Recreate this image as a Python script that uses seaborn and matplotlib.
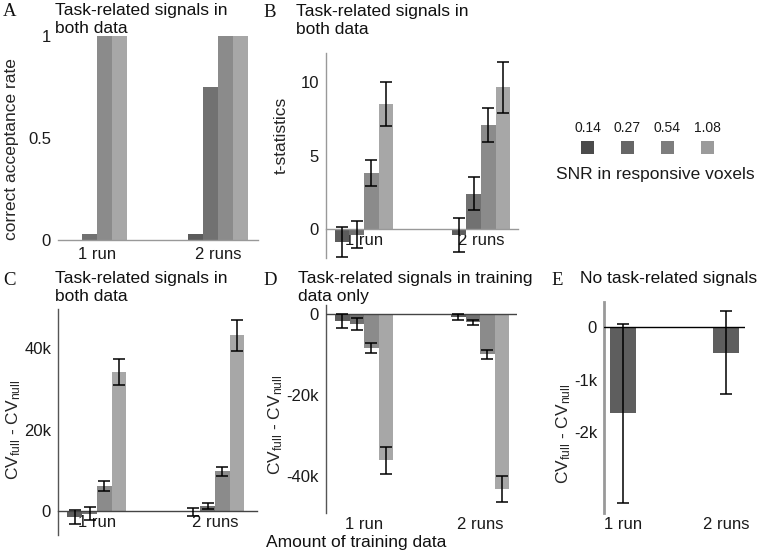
import numpy as np
import pandas as pd
import matplotlib
matplotlib.use("Agg")
import matplotlib.pyplot as plt
import seaborn as sns
from matplotlib.patches import Rectangle
from matplotlib.ticker import FixedLocator, FixedFormatter

# ---------------- data ----------------
amounts = ["1 run", "2 runs"]
snr_levels = ["0.14", "0.27", "0.54", "1.08"]

# A: correct acceptance rate
acc_1run = [0.0, 0.027, 1.0, 1.0]
acc_2runs = [0.027, 0.75, 1.0, 1.0]

# B: t-statistics (mean, error)
t_1run = [-0.9, -0.4, 3.8, 8.5]
t_1run_err = [1.0, 0.95, 0.9, 1.5]
t_2runs = [-0.45, 2.4, 7.1, 9.65]
t_2runs_err = [1.15, 1.1, 1.15, 1.75]

# C: CV_full - CV_null, task signals in both data
cvb_1run = [-1500, -700, 6100, 34200]
cvb_1run_err = [1800, 1600, 1300, 3200]
cvb_2runs = [-300, 1300, 9700, 43200]
cvb_2runs_err = [1000, 700, 1100, 3800]

# D: CV_full - CV_null, task signals in training data only
cvt_1run = [-1700, -2400, -8300, -36000]
cvt_1run_err = [1700, 1500, 1200, 3300]
cvt_2runs = [-700, -2100, -9900, -43100]
cvt_2runs_err = [700, 700, 1100, 3200]

# E: no task-related signals
cvn = [-1640, -490]
cvn_err = [1700, 780]

bar_colors = ["#5c5c5c", "#717171", "#8b8b8b", "#a7a7a7"]
legend_colors = ["#4b4b4b", "#666666", "#7d7d7d", "#9b9b9b"]
e_color = "#5e5e5e"

# ---------------- style ----------------
sns.set_style("white")
plt.rcParams["font.family"] = ["Liberation Sans", "DejaVu Sans"]
plt.rcParams["mathtext.fontset"] = "custom"
plt.rcParams["mathtext.rm"] = "Liberation Sans"
plt.rcParams["mathtext.it"] = "Liberation Sans:italic"
plt.rcParams["axes.linewidth"] = 1.0

W, H = 760, 552
fig = plt.figure(figsize=(W / 100, H / 100), dpi=100)


def add_ax(x0, y0, x1, y1):
    return fig.add_axes([x0 / W, 1 - y1 / H, (x1 - x0) / W, (y1 - y0) / H])


def long_df(v1, v2, e1=None, e2=None):
    rows = []
    for amt, vals, errs in ((amounts[0], v1, e1), (amounts[1], v2, e2)):
        for i, s in enumerate(snr_levels):
            rows.append({"amount": amt, "snr": s, "value": vals[i],
                         "err": (errs[i] if errs is not None else 0.0)})
    return pd.DataFrame(rows)


def grouped(ax, df, with_err=True):
    sns.barplot(data=df, x="amount", y="value", hue="snr", order=amounts,
                hue_order=snr_levels, palette=bar_colors, width=0.5,
                errorbar=None, saturation=1, linewidth=0, legend=False, ax=ax)
    if with_err:
        lut = {(r.amount, r.snr): r.err for r in df.itertuples()}
        bar_conts = list(ax.containers)
        for hi, cont in enumerate(bar_conts):
            for ci, bar in enumerate(cont):
                xc = bar.get_x() + bar.get_width() / 2
                yv = bar.get_y() + bar.get_height()
                ax.errorbar(xc, yv, yerr=lut[(amounts[ci], snr_levels[hi])],
                            fmt="none", ecolor="black", elinewidth=1.1,
                            capsize=4.5, capthick=1.1, zorder=5)
    ax.set_xlabel("")


def style_ticks(ax, yt, ylab, xpad=4):
    ax.yaxis.set_major_locator(FixedLocator(yt))
    ax.yaxis.set_major_formatter(FixedFormatter(ylab))
    ax.tick_params(axis="both", length=0, labelsize=12, colors="#1a1a1a")
    ax.tick_params(axis="x", pad=xpad)
    ax.tick_params(axis="y", pad=5)


cv_label = r"CV$_{\mathrm{full}}$ - CV$_{\mathrm{null}}$"

# ---------------- A ----------------
axA = add_ax(58, 36, 258, 240)
grouped(axA, long_df(acc_1run, acc_2runs), with_err=False)
axA.set_xlim(-0.322, 1.331)
axA.set_ylim(0, 1)
for s in ("top", "right", "left"):
    axA.spines[s].set_visible(False)
axA.spines["bottom"].set_color("#999999")
style_ticks(axA, [0, 0.5, 1], ["0", "0.5", "1"], xpad=5)
axA.set_ylabel("correct acceptance rate", fontsize=12.5, va="center")
axA.yaxis.set_label_coords((12 - 58) / 200, (240 - 149) / 204)

# ---------------- B ----------------
axB = add_ax(326, 53, 518, 258)
grouped(axB, long_df(t_1run, t_2runs, t_1run_err, t_2runs_err))
axB.set_xlim(-0.325, 1.316)
axB.set_ylim(-2, 12)
for s in ("top", "right"):
    axB.spines[s].set_visible(False)
axB.spines["left"].set_color("#999999")
axB.spines["bottom"].set_color("#999999")
axB.spines["bottom"].set_position(("data", 0))
style_ticks(axB, [0, 5, 10], ["0", "5", "10"], xpad=3)
axB.set_ylabel("t-statistics", fontsize=12.5, va="center")
axB.yaxis.set_label_coords((281 - 326) / 192, (258 - 135) / 205)

# ---------------- C ----------------
axC = add_ax(58, 309, 257, 535)
grouped(axC, long_df(cvb_1run, cvb_2runs, cvb_1run_err, cvb_2runs_err))
axC.set_xlim(-0.33, 1.356)
axC.set_ylim(-5900, 49600)
for s in ("top", "right"):
    axC.spines[s].set_visible(False)
axC.spines["left"].set_color("#555555")
axC.spines["bottom"].set_color("#444444")
axC.spines["bottom"].set_position(("data", 0))
style_ticks(axC, [0, 20000, 40000], ["0", "20k", "40k"], xpad=3)
axC.set_ylabel(cv_label, fontsize=12.5, va="center")
axC.yaxis.set_label_coords((14 - 58) / 199, (535 - 430) / 226)

# ---------------- D ----------------
axD = add_ax(326, 305, 517, 513)
grouped(axD, long_df(cvt_1run, cvt_2runs, cvt_1run_err, cvt_2runs_err))
axD.set_xlim(-0.328, 1.319)
axD.set_ylim(-49000, 2200)
for s in ("top", "right", "bottom"):
    axD.spines[s].set_visible(False)
axD.spines["left"].set_color("#555555")
axD.axhline(0, color="#444444", lw=1.0, zorder=4)
style_ticks(axD, [0, -20000, -40000], ["0", "-20k", "-40k"], xpad=3)
axD.set_ylabel(cv_label, fontsize=12.5, va="center")
axD.yaxis.set_label_coords((276 - 326) / 191, (513 - 425) / 208)

# ---------------- E ----------------
axE = add_ax(604, 302, 745, 513)
dfE = pd.DataFrame({"amount": amounts, "value": cvn, "err": cvn_err})
sns.barplot(data=dfE, x="amount", y="value", order=amounts, color=e_color,
            width=0.25, errorbar=None, saturation=1, linewidth=0, ax=axE)
for bar, err in zip(list(axE.patches), dfE["err"]):
    axE.errorbar(bar.get_x() + bar.get_width() / 2, bar.get_y() + bar.get_height(),
                 yerr=err, fmt="none", ecolor="black", elinewidth=1.1,
                 capsize=4.5, capthick=1.1, zorder=5)
axE.set_xlabel("")
axE.set_xlim(-0.184, 1.184)
axE.set_ylim(-3530, 470)
for s in ("top", "right", "bottom"):
    axE.spines[s].set_visible(False)
axE.spines["left"].set_color("#999999")
axE.spines["left"].set_linewidth(2)
axE.axhline(0, color="black", lw=1.0, zorder=4)
style_ticks(axE, [0, -1000, -2000], ["0", "-1k", "-2k"], xpad=3)
axE.set_ylabel(cv_label, fontsize=12.5, va="center")
axE.yaxis.set_label_coords((564 - 604) / 141, (513 - 434) / 211)

# ---------------- legend ----------------
sq = 13
for i, (lab, col) in enumerate(zip(snr_levels, legend_colors)):
    x0 = 581 + 40 * i
    fig.add_artist(Rectangle((x0 / W, 1 - 154 / H), sq / W, sq / H,
                             transform=fig.transFigure, facecolor=col,
                             edgecolor="none"))
    fig.text((x0 + sq / 2) / W, 1 - 127.5 / H, lab, ha="center", va="center",
             fontsize=10, color="#1a1a1a")
fig.text(655 / W, 1 - 175 / H, "SNR in responsive voxels", ha="center",
         va="center", fontsize=12.5, color="#1a1a1a")

# ---------------- titles and letters ----------------
def letter(x, yb, s):
    fig.text(x / W, 1 - yb / H, s, ha="left", va="baseline", fontsize=13.5,
             family=["Liberation Serif", "DejaVu Serif"], color="#111111")


def title(x, yb, lines):
    for k, line in enumerate(lines):
        fig.text(x / W, 1 - (yb + 18 * k) / H, line, ha="left", va="baseline",
                 fontsize=12.5, color="#111111")


letter(3, 16, "A")
title(55, 15, ["Task-related signals in", "both data"])
letter(263, 17, "B")
title(296, 16, ["Task-related signals in", "both data"])
letter(3, 285, "C")
title(55, 283, ["Task-related signals in", "both data"])
letter(263, 285, "D")
title(298, 283, ["Task-related signals in training", "data only"])
letter(551, 285, "E")
title(580, 283, ["No task-related signals"])

fig.text(356 / W, 1 - 542 / H, "Amount of training data", ha="center",
         va="center", fontsize=12.5, color="#111111")

fig.savefig("out.png", dpi=100)
